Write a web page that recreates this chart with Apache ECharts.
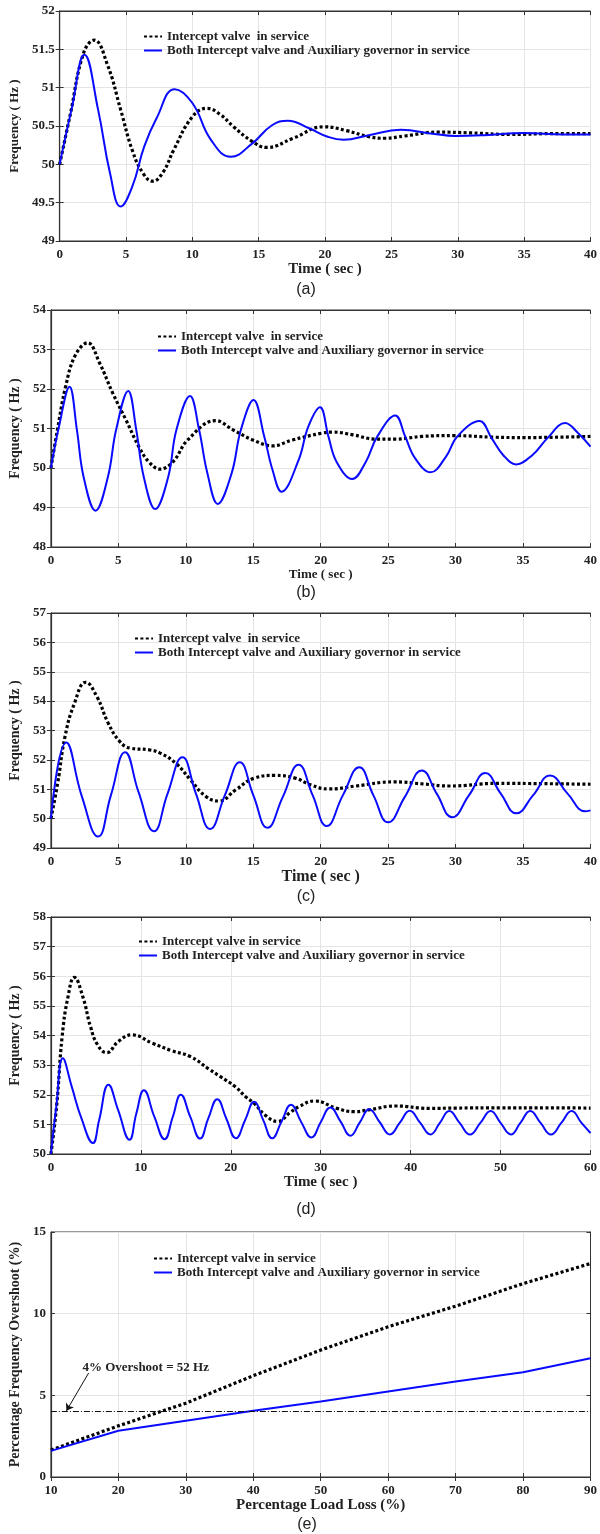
<!DOCTYPE html>
<html>
<head>
<meta charset="UTF-8">
<title>Frequency response</title>
<script src="https://cdn.jsdelivr.net/npm/echarts@6/dist/echarts.min.js"></script>
<style>body{margin:0;background:#fff}</style>
</head>
<body>
<div id="chart" style="width:600px;height:1534px"></div>
<script type="text/javascript">
// ---- series names ----
var nameValve2 = 'Intercept valve  in service';
var nameValve1 = 'Intercept valve in service';
var nameBoth = 'Both Intercept valve and Auxiliary governor in service';

// ---- (a) ----
var tA_valve = [0, 0.8, 1.8, 2.6, 3.6, 4.6, 5.5, 6.3, 7.0, 7.8, 8.6, 10.0, 11.1, 12.1, 13.1, 14.5, 15.6, 17.6, 19.9, 21.6, 23.3, 24.5, 26.0, 28.5, 31, 34, 37, 40];
var fA_valve = [50.0, 50.65, 51.45, 51.62, 51.3, 50.71, 50.17, 49.88, 49.78, 49.9, 50.19, 50.62, 50.73, 50.65, 50.49, 50.3, 50.22, 50.34, 50.49, 50.44, 50.36, 50.34, 50.37, 50.42, 50.41, 50.39, 50.40, 50.40];
var tA_both = [0, 0.9, 1.87, 2.9, 3.8, 4.6, 5.47, 6.37, 7.3, 8.67, 10.0, 11.4, 12.9, 14.5, 16.0, 17.2, 18.8, 20.2, 21.4, 23.3, 25.7, 28.1, 29.8, 32, 35, 38, 40];
var fA_both = [50.0, 50.72, 51.43, 50.71, 49.88, 49.45, 49.71, 50.23, 50.6, 50.98, 50.8, 50.32, 50.1, 50.27, 50.51, 50.57, 50.47, 50.36, 50.32, 50.38, 50.45, 50.40, 50.37, 50.38, 50.41, 50.39, 50.39];

// ---- (b) ----
var tB_valve = [0, 0.48, 1.09, 1.8, 2.73, 3.62, 4.59, 5.56, 6.52, 7.25, 8.09, 9.06, 10.14, 12.2, 13.53, 14.97, 16.43, 17.9, 20.05, 20.93, 22.38, 24.08, 25.53, 27.5, 29.9, 32.8, 35.2, 40];
var fB_valve = [50.0, 50.96, 52.06, 52.85, 53.17, 52.65, 51.89, 51.22, 50.54, 50.16, 49.97, 50.16, 50.71, 51.2, 50.96, 50.71, 50.56, 50.71, 50.88, 50.91, 50.84, 50.73, 50.73, 50.8, 50.82, 50.78, 50.77, 50.8];
var tB_both = [0, 0.6, 1.38, 1.93, 2.42, 3.31, 4.23, 4.83, 5.73, 6.33, 6.88, 7.73, 8.7, 9.3, 10.31, 10.99, 11.6, 12.37, 13.4, 14.08, 15.02, 15.82, 16.43, 17.1, 18.36, 19.08, 19.95, 20.57, 21.17, 22.34, 23.35, 24.2, 25.53, 26.26, 26.99, 28.15, 29.29, 30.13, 31.78, 32.68, 33.52, 34.49, 35.7, 36.79, 38.12, 39.09, 40];
var fB_both = [50.0, 51.05, 52.06, 50.96, 49.78, 48.92, 49.78, 50.96, 51.95, 50.96, 49.78, 48.96, 49.78, 50.96, 51.82, 50.96, 49.87, 49.09, 49.87, 50.96, 51.72, 50.79, 49.95, 49.4, 50.2, 51.05, 51.54, 50.8, 50.16, 49.72, 50.16, 50.8, 51.33, 50.8, 50.25, 49.89, 50.29, 50.8, 51.19, 50.75, 50.33, 50.09, 50.33, 50.75, 51.14, 50.88, 50.54];

// ---- (c) ----
var tC_valve = [0, 0.5, 1.05, 1.75, 2.58, 3.4, 4.25, 5.1, 5.9, 7.3, 8.1, 9.25, 10.35, 11.5, 12.45, 13.7, 15.1, 16.6, 18.1, 19.25, 20.6, 22.6, 25.4, 27.6, 29.5, 33.1, 36.5, 40];
var fC_valve = [50.0, 51.2, 52.8, 53.93, 54.64, 54.16, 53.25, 52.63, 52.4, 52.34, 52.23, 51.89, 51.32, 50.75, 50.6, 50.98, 51.38, 51.47, 51.38, 51.15, 51.01, 51.11, 51.25, 51.18, 51.11, 51.2, 51.19, 51.17];
var tC_both = [0, 1.14, 2.3, 3.5, 4.45, 5.5, 6.5, 7.64, 8.65, 9.75, 10.75, 11.8, 12.9, 14.0, 15.0, 16.05, 17.2, 18.36, 19.4, 20.44, 21.65, 22.86, 23.9, 25.0, 26.25, 27.5, 28.6, 29.75, 31.0, 32.2, 33.35, 34.5, 35.75, 37.0, 38.3, 39.6, 40];
var fC_both = [50.0, 52.59, 50.75, 49.39, 50.8, 52.26, 50.9, 49.57, 50.85, 52.09, 50.85, 49.65, 50.8, 51.92, 50.8, 49.69, 50.75, 51.83, 50.8, 49.75, 50.8, 51.75, 50.8, 49.875, 50.75, 51.64, 50.85, 50.05, 50.8, 51.55, 50.85, 50.18, 50.8, 51.47, 50.85, 50.25, 50.28];

// ---- (d) ----
var tD_valve = [0, 0.63, 1.25, 1.9, 2.6, 3.55, 4.4, 5.2, 6.2, 7.5, 9.0, 11.3, 13.4, 15.5, 17.6, 18.8, 20.5, 21.7, 22.6, 23.8, 25.2, 26.6, 27.6, 29.3, 31.8, 33.7, 35.5, 38.3, 42.1, 45, 50, 55, 60];
var fD_valve = [50.0, 51.6, 53.96, 55.3, 55.96, 55.31, 54.3, 53.68, 53.42, 53.8, 54.02, 53.74, 53.49, 53.29, 52.86, 52.62, 52.27, 51.92, 51.71, 51.32, 51.1, 51.4, 51.6, 51.79, 51.54, 51.43, 51.5, 51.62, 51.54, 51.55, 51.56, 51.56, 51.55];
var tD_both = [0, 0.6, 1.33, 2.3, 3.4, 4.67, 5.36, 6.4, 7.47, 8.74, 9.5, 10.34, 11.5, 12.64, 13.55, 14.44, 15.5, 16.59, 17.5, 18.5, 19.5, 20.57, 21.6, 22.6, 23.6, 24.6, 25.65, 26.7, 27.8, 28.97, 30.0, 31.07, 32.2, 33.3, 34.35, 35.4, 36.55, 37.7, 38.8, 39.9, 41.05, 42.2, 43.25, 44.3, 45.45, 46.6, 47.75, 48.9, 50.0, 51.15, 52.2, 53.3, 54.45, 55.6, 56.75, 57.9, 59.0, 60];
var fD_both = [50.0, 51.6, 53.23, 52.29, 51.2, 50.37, 51.14, 52.34, 51.49, 50.48, 51.37, 52.15, 51.26, 50.5, 51.25, 52.0, 51.25, 50.52, 51.2, 51.85, 51.2, 50.53, 51.15, 51.76, 51.15, 50.53, 51.1, 51.66, 51.1, 50.56, 51.07, 51.57, 51.1, 50.62, 51.07, 51.51, 51.08, 50.66, 51.06, 51.46, 51.06, 50.66, 51.05, 51.45, 51.05, 50.66, 51.05, 51.45, 51.05, 50.66, 51.05, 51.45, 51.05, 50.66, 51.05, 51.45, 51.05, 50.71];

// ---- (e) ----
var loadLoss = [10, 20, 30, 40, 50, 60, 70, 80, 90];
var overshootValve = [1.65, 3.13, 4.52, 6.2, 7.77, 9.2, 10.46, 11.84, 13.07];
var overshootBoth = [1.6, 2.83, 3.44, 4.05, 4.62, 5.23, 5.84, 6.41, 7.27];
var limitOvershoot = 4;

function pairs(xs, ys) {
  var out = [];
  for (var i = 0; i < xs.length; i++) out.push([xs[i], ys[i]]);
  return out;
}

var serif = '"Liberation Serif", "Times New Roman", serif';
var sans = '"Liberation Sans", Arial, sans-serif';

var panels = [
  {grid: {left: 52, right: 8, top: 11, height: 230}, x: [0, 40, 5], y: [49, 52, 0.5],
   xName: 'Time ( sec )', yName: 'Frequency ( Hz )', xGap: 18, yGap: 31, xSize: 15, ySize: 13,
   leg: [143, 30], cap: [306, 290, '(a)'], vName: nameValve2,
   valve: pairs(tA_valve, fA_valve), both: pairs(tA_both, fA_both), smooth: 0.45},
  {grid: {left: 40, right: 8, top: 310, height: 237}, x: [0, 40, 5], y: [48, 54, 1],
   xName: 'Time ( sec )', yName: 'Frequency ( Hz )', xGap: 18, yGap: 16, xSize: 13, ySize: 14,
   leg: [157, 330], cap: [306, 593, '(b)'], vName: nameValve2,
   valve: pairs(tB_valve, fB_valve), both: pairs(tB_both, fB_both), smooth: 0.4},
  {grid: {left: 41, right: 8, top: 613, height: 235}, x: [0, 40, 5], y: [49, 57, 1],
   xName: 'Time ( sec )', yName: 'Frequency ( Hz )', xGap: 19, yGap: 20, xSize: 16, ySize: 14,
   leg: [134, 632], cap: [306, 897, '(c)'], vName: nameValve2,
   valve: pairs(tC_valve, fC_valve), both: pairs(tC_both, fC_both), smooth: 0.47},
  {grid: {left: 42, right: 9, top: 917, height: 237}, x: [0, 60, 10], y: [50, 58, 1],
   xName: 'Time ( sec )', yName: 'Frequency ( Hz )', xGap: 20, yGap: 20, xSize: 15, ySize: 14,
   leg: [138, 935], cap: [306, 1210, '(d)'], vName: nameValve1,
   valve: pairs(tD_valve, fD_valve), both: pairs(tD_both, fD_both), smooth: 0.47},
  {grid: {left: 41, right: 4, top: 1232, height: 245}, x: [10, 90, 10], y: [0, 15, 5],
   xName: 'Percentage Load Loss (%)', yName: 'Percentage Frequency Overshoot (%)', xGap: 16, yGap: 19, xSize: 15, ySize: 14,
   leg: [153, 1252], cap: [307, 1525, '(e)'], vName: nameValve1,
   valve: pairs(loadLoss, overshootValve), both: pairs(loadLoss, overshootBoth), smooth: false}
];

var grids = [], xAxes = [], yAxes = [], legends = [], series = [], graphics = [];
var tickFont = {fontFamily: serif, fontWeight: 'bold', fontSize: 13, color: '#222'};
var dotStyle = {color: '#000', width: 3.2, type: [3, 2.4], cap: 'butt'};
var blueStyle = {color: '#0a0aff', width: 2};

panels.forEach(function (p, i) {
  grids.push(Object.assign({show: true, borderColor: '#333', borderWidth: 1, backgroundColor: '#fff'}, p.grid));
  // bottom / left axes carry labels; top / right just mirror the ticks
  xAxes.push({
    type: 'value', gridIndex: i, min: p.x[0], max: p.x[1], interval: p.x[2], position: 'bottom',
    name: p.xName, nameLocation: 'middle', nameGap: p.xGap,
    nameTextStyle: {fontFamily: serif, fontWeight: 'bold', fontSize: p.xSize, color: '#222', verticalAlign: 'top'},
    axisLine: {lineStyle: {color: '#333', width: 1.2}},
    axisTick: {inside: true, length: 4, lineStyle: {color: '#333'}},
    axisLabel: Object.assign({margin: 7}, tickFont),
    splitLine: {show: true, lineStyle: {color: '#e4e4e4', width: 1}}
  });
  xAxes.push({
    type: 'value', gridIndex: i, min: p.x[0], max: p.x[1], interval: p.x[2], position: 'top',
    axisLine: {lineStyle: {color: '#333', width: 1}},
    axisTick: {inside: true, length: 4, lineStyle: {color: '#333'}},
    axisLabel: {show: false}, splitLine: {show: false}
  });
  yAxes.push({
    type: 'value', gridIndex: i, min: p.y[0], max: p.y[1], interval: p.y[2], position: 'left',
    name: p.yName, nameLocation: 'middle', nameGap: p.yGap, nameRotate: 90,
    nameTextStyle: {fontFamily: serif, fontWeight: 'bold', fontSize: p.ySize, color: '#222'},
    axisLine: {show: true, lineStyle: {color: '#333', width: 1.2}},
    axisTick: {show: true, inside: true, length: 4, lineStyle: {color: '#333'}},
    axisLabel: Object.assign({margin: 5}, tickFont),
    splitLine: {show: true, lineStyle: {color: '#e4e4e4', width: 1}}
  });
  yAxes.push({
    type: 'value', gridIndex: i, min: p.y[0], max: p.y[1], interval: p.y[2], position: 'right',
    axisLine: {show: true, lineStyle: {color: '#333', width: 1}},
    axisTick: {show: true, inside: true, length: 4, lineStyle: {color: '#333'}},
    axisLabel: {show: false}, splitLine: {show: false}
  });
  legends.push({
    data: [p.vName, nameBoth], orient: 'vertical', left: p.leg[0], top: p.leg[1],
    itemWidth: 18, itemHeight: 2, itemGap: 1, padding: 0, selectedMode: false,
    itemStyle: {opacity: 0},
    textStyle: {fontFamily: serif, fontWeight: 'bold', fontSize: 13, color: '#222', lineHeight: 13}
  });
  var valveSeries = {
    name: p.vName, type: 'line', xAxisIndex: 2 * i, yAxisIndex: 2 * i,
    data: p.valve, smooth: p.smooth, showSymbol: false, symbol: 'none',
    lineStyle: dotStyle, itemStyle: {color: '#000'}, z: 3
  };
  var bothSeries = {
    name: nameBoth, type: 'line', xAxisIndex: 2 * i, yAxisIndex: 2 * i,
    data: p.both, smooth: p.smooth, showSymbol: false, symbol: 'none',
    lineStyle: blueStyle, itemStyle: {color: '#0a0aff'}, z: 4
  };
  if (i === 4) {
    valveSeries.markLine = {
      silent: true, animation: false, symbol: ['none', 'none'],
      label: {show: false},
      data: [
        {yAxis: limitOvershoot, lineStyle: {color: '#111', width: 1, type: [6, 2, 1, 2]}},
        [{coord: [15.6, 6.37], symbol: 'none', lineStyle: {color: '#111', width: 1, type: 'solid'}},
         {coord: [12.3, 4.05], symbol: 'arrow', symbolSize: 7}]
      ]
    };
    valveSeries.markPoint = {
      silent: true, animation: false,
      data: [{coord: [14.6, 6.7], symbol: 'circle', symbolSize: 1, itemStyle: {color: 'rgba(0,0,0,0)'},
        label: {show: true, position: 'right', distance: 0, formatter: '4% Overshoot = 52 Hz',
          fontFamily: serif, fontWeight: 'bold', fontSize: 13, color: '#222'}}]
    };
  }
  series.push(valveSeries, bothSeries);
  graphics.push({
    type: 'text', x: p.cap[0], y: p.cap[1],
    style: {text: p.cap[2], font: '16px ' + sans, fill: '#222', textAlign: 'center', textVerticalAlign: 'middle'}
  });
});

var chart = echarts.init(document.getElementById('chart'));
chart.setOption({
  backgroundColor: '#fff',
  animation: false,
  grid: grids,
  xAxis: xAxes,
  yAxis: yAxes,
  legend: legends,
  series: series,
  graphic: graphics
});
</script>
</body>
</html>
